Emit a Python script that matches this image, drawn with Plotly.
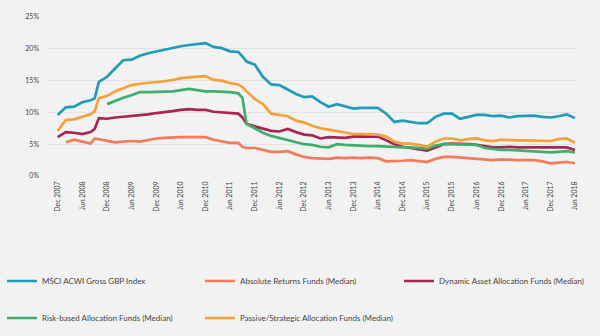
import pandas as pd
import plotly.graph_objects as go

# Months elapsed since December 2007 for each observation
months = [0, 2, 4, 6, 8, 9, 10, 12, 14, 16, 18, 20, 22, 24, 26, 28, 30, 32, 34, 36,
          38, 40, 42, 44, 45, 46, 48, 50, 52, 54, 56, 58, 60, 62, 64, 66, 68, 70, 72,
          74, 76, 78, 80, 82, 84, 86, 88, 90, 92, 94, 96, 98, 100, 102, 104, 106, 108,
          110, 112, 114, 116, 118, 120, 122, 124, 126]
dates = [pd.Timestamp("2007-12-31") + pd.offsets.MonthEnd(m) for m in months]

msci = [9.6, 10.8, 10.9, 11.6, 11.9, 12.2, 14.8, 15.6, 16.9, 18.2, 18.3, 18.9, 19.3, 19.6,
        19.8, 20.2, 20.4, 20.6, 20.7, 20.9, 20.3, 20.1, 19.6, 19.5, 18.8, 18.0, 17.5, 15.6,
        14.4, 14.3, 13.6, 12.9, 12.4, 12.5, 11.6, 10.9, 11.3, 10.9, 10.6, 10.7, 10.7, 10.7,
        9.8, 8.5, 8.7, 8.5, 8.3, 8.3, 9.3, 9.8, 9.8, 9.0, 9.3, 9.6, 9.6, 9.4, 9.5, 9.2, 9.4,
        9.5, 9.5, 9.3, 9.2, 9.4, 9.7, 9.1]

absolute = [None, 5.3, 5.7, 5.4, 5.1, 5.9, 5.8, 5.5, 5.3, 5.4, 5.5, 5.4, 5.7, 5.9, 6.0, 6.1,
            6.1, 6.1, 6.1, 6.1, 5.7, 5.5, 5.2, 5.2, 4.6, 4.4, 4.4, 4.1, 3.8, 3.8, 3.9, 3.4,
            3.0, 2.8, 2.8, 2.7, 2.9, 2.8, 2.9, 2.8, 2.9, 2.8, 2.3, 2.3, 2.4, 2.5, 2.4, 2.2,
            2.7, 3.0, 3.0, 2.9, 2.8, 2.7, 2.6, 2.5, 2.6, 2.5, 2.5, 2.5, 2.5, 2.3, 2.0, 2.1,
            2.2, 2.0]

dynamic = [6.1, 6.9, 6.8, 6.6, 6.9, 7.4, 9.1, 9.0, 9.2, 9.3, 9.5, 9.5, 9.7, 9.9, 10.0, 10.2,
           10.4, 10.5, 10.4, 10.4, 10.1, 10.0, 9.9, 9.8, 9.2, 8.2, 7.8, 7.4, 7.1, 7.0, 7.4,
           6.9, 6.5, 6.4, 5.9, 6.1, 6.1, 6.0, 6.2, 6.2, 6.2, 6.2, 5.6, 5.0, 4.6, 4.4, 4.2,
           4.0, 4.5, 5.0, 5.1, 5.1, 5.0, 4.9, 4.7, 4.5, 4.5, 4.6, 4.5, 4.5, 4.5, 4.4, 4.4,
           4.4, 4.5, 4.1]

risk_based = [None, None, None, None, None, None, None, 11.3, 11.8, 12.3, 12.7, 13.2, 13.2,
              13.2, 13.3, 13.3, 13.5, 13.7, 13.5, 13.3, 13.3, 13.3, 13.2, 13.0, 12.3, 8.2,
              7.5, 6.8, 6.3, 6.0, 5.6, 5.3, 5.0, 4.9, 4.6, 4.5, 5.0, 4.9, 4.8, 4.8, 4.7, 4.7,
              4.6, 4.6, 4.5, 4.5, 4.4, 4.3, 4.8, 5.0, 5.0, 5.0, 5.0, 4.9, 4.4, 4.2, 4.1, 4.1,
              4.0, 3.9, 3.9, 3.7, 3.7, 3.8, 3.9, 3.7]

passive = [7.1, 8.8, 8.9, 9.3, 9.7, 10.2, 12.2, 12.6, 13.3, 13.8, 14.3, 14.5, 14.6, 14.8,
           14.9, 15.1, 15.4, 15.5, 15.6, 15.7, 15.1, 15.0, 14.6, 14.4, 14.0, 13.3, 12.1,
           11.3, 9.8, 9.6, 9.4, 8.7, 8.4, 7.9, 7.5, 7.3, 7.1, 6.9, 6.6, 6.6, 6.5, 6.5, 6.2,
           5.4, 5.1, 5.1, 4.9, 4.6, 5.4, 5.9, 5.9, 5.6, 5.8, 5.9, 5.6, 5.5, 5.7, 5.6, 5.6,
           5.6, 5.6, 5.6, 5.5, 5.8, 5.9, 5.2]

# name, values, colour, legend slot (column, row)
series = [
    ("MSCI ACWI Gross GBP Index", msci, "#1e9cb8", (0, 0)),
    ("Absolute Returns Funds (Median)", absolute, "#f27c58", (1, 0)),
    ("Dynamic Asset Allocation Funds (Median)", dynamic, "#a8254f", (2, 0)),
    ("Risk-based Allocation Funds (Median)", risk_based, "#3daf6b", (0, 1)),
    ("Passive/Strategic Allocation Funds (Median)", passive, "#f3a13a", (1, 1)),
]

# Half-yearly tick marks from Dec 2007 to Jun 2018
tick_dates = [pd.Timestamp("2007-12-31") + pd.offsets.MonthEnd(6 * k) for k in range(22)]
tick_text = [d.strftime("%b %Y") for d in tick_dates]

font = dict(family="Lato, 'Noto Sans', sans-serif", color="#444444")

fig = go.Figure()
legends = {}
col_x = [2, 200, 399]        # left edge of each legend column (px)
row_y = [281, 318]           # vertical centre of each legend row (px)
for i, (name, vals, color, (col, row)) in enumerate(series):
    key = "legend" if i == 0 else f"legend{i + 1}"
    fig.add_trace(go.Scatter(
        x=dates, y=vals, name=name, mode="lines", showlegend=True,
        line=dict(color=color, width=2.7), legend=key,
    ))
    legends[key] = dict(
        xref="container", yref="container",
        x=col_x[col] / 600, y=1 - row_y[row] / 336,
        xanchor="left", yanchor="middle", orientation="h",
        bgcolor="rgba(0,0,0,0)", font=dict(size=8, **font), itemwidth=30,
    )

fig.update_layout(
    width=600, height=336, showlegend=True,
    margin=dict(l=48, r=23, t=15, b=160),
    paper_bgcolor="#f2f2f2", plot_bgcolor="#f2f2f2",
    font=dict(size=7, **font),
    xaxis=dict(
        range=[pd.Timestamp("2007-10-20"), pd.Timestamp("2018-07-15")],
        tickmode="array", tickvals=tick_dates, ticktext=tick_text,
        tickangle=-90, showgrid=False, zeroline=False, showline=False,
        tickfont=dict(size=7, **font), ticklabelstandoff=3,
    ),
    yaxis=dict(
        range=[0, 25], tickvals=[0, 5, 10, 15, 20, 25],
        ticktext=["0%", "5%", "10%", "15%", "20%", "25%"],
        showgrid=True, gridcolor="#e2e2e2", gridwidth=1, zeroline=False,
        showline=False, ticklabelstandoff=8, tickfont=dict(size=7, **font),
    ),
    **legends,
)

fig.write_html("out.html")
